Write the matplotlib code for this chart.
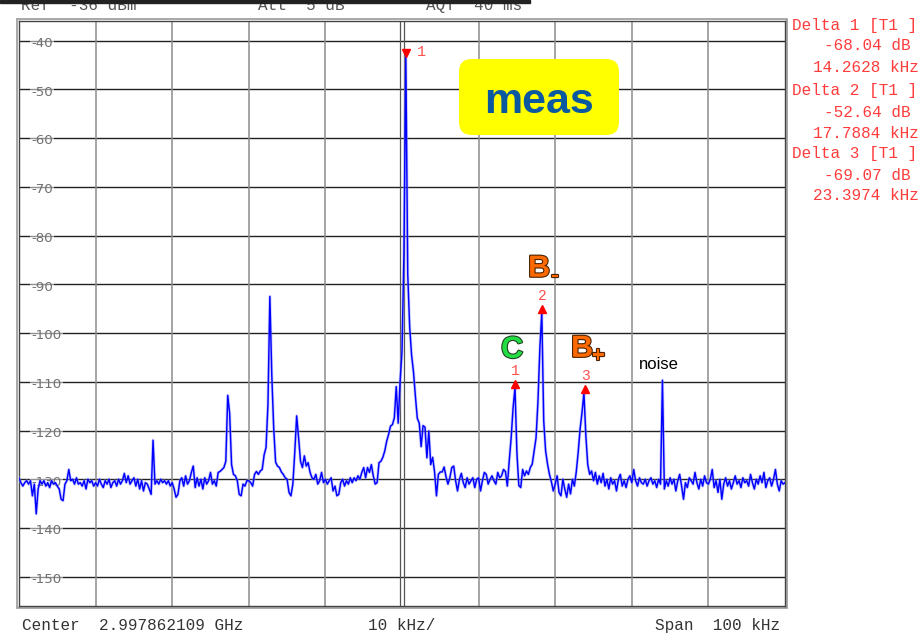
import numpy as np
import matplotlib
matplotlib.use('Agg')
import matplotlib.pyplot as plt
import matplotlib.patheffects as pe
from matplotlib.patches import FancyBboxPatch, Rectangle
from matplotlib.transforms import offset_copy

# sweep: 401 points, offset from center frequency in kHz
freq = np.linspace(-50, 50, 401)

# trace level in dBm, 20 sweep points (5 kHz) per row
trace_rows = [
    [-129.8, -130.7, -131.4, -130.7, -130.3, -131.0, -130.3, -133.4, -131.0, -137.1, -132.0, -130.3, -131.0, -130.3, -131.4, -130.7, -131.7, -130.3, -131.0, -130.7],
    [-131.4, -132.0, -134.1, -134.4, -131.0, -130.3, -128.0, -130.3, -130.0, -131.0, -129.7, -131.0, -130.7, -131.4, -130.3, -132.0, -130.0, -130.7, -130.3, -131.4],
    [-130.7, -131.4, -130.0, -131.0, -131.7, -130.3, -131.0, -130.0, -131.7, -130.7, -130.3, -131.4, -130.0, -131.0, -130.3, -128.8, -130.7, -129.3, -131.0, -130.3],
    [-129.7, -131.4, -130.0, -132.0, -130.3, -132.4, -130.7, -131.0, -132.0, -133.1, -122.0, -131.0, -130.3, -131.0, -130.0, -130.7, -130.3, -131.0, -130.3, -131.4],
    [-130.7, -132.0, -133.7, -133.1, -130.3, -129.7, -131.4, -129.3, -131.0, -130.3, -128.6, -127.3, -131.7, -129.7, -131.4, -130.0, -132.0, -129.7, -131.0, -130.3],
    [-128.6, -131.0, -130.3, -131.4, -128.6, -128.4, -128.0, -127.6, -126.3, -112.8, -116.5, -127.0, -129.0, -129.3, -130.3, -133.1, -133.4, -131.0, -131.4, -130.3],
    [-130.3, -130.7, -131.4, -129.0, -128.4, -129.0, -128.3, -128.0, -125.0, -123.5, -114.7, -92.5, -108.6, -119.5, -126.5, -127.3, -127.6, -128.5, -129.0, -129.7],
    [-130.0, -132.7, -133.4, -131.0, -124.5, -117.0, -121.5, -126.3, -127.6, -125.2, -127.3, -126.6, -128.6, -129.7, -130.0, -129.0, -131.0, -130.3, -128.6, -130.7],
    [-130.0, -131.0, -130.3, -129.7, -132.4, -131.4, -133.4, -133.1, -130.7, -130.0, -131.4, -130.3, -131.0, -129.7, -130.7, -129.7, -130.3, -129.3, -130.0, -128.6],
    [-127.6, -129.7, -127.6, -128.6, -127.0, -129.3, -131.0, -130.7, -126.6, -126.3, -125.5, -124.2, -122.2, -120.8, -119.1, -118.8, -117.4, -111.0, -118.5, -110.0],
    [-103.8, -84.0, -43.2, -88.0, -98.7, -104.5, -108.0, -113.0, -117.5, -118.5, -123.3, -119.0, -119.3, -125.6, -120.1, -127.0, -125.5, -128.5, -133.4, -129.0],
    [-128.5, -128.5, -127.5, -129.5, -131.0, -129.7, -127.6, -127.3, -130.3, -132.4, -130.0, -128.8, -130.7, -131.7, -129.7, -131.0, -130.3, -129.7, -131.7, -130.0],
    [-129.7, -132.4, -130.3, -128.6, -129.0, -131.0, -130.0, -129.3, -130.3, -131.0, -128.6, -129.7, -129.3, -128.0, -128.4, -131.4, -126.2, -121.5, -115.4, -111.2],
    [-124.5, -131.3, -131.7, -128.0, -129.3, -128.3, -129.0, -127.6, -126.9, -124.2, -121.5, -114.0, -103.0, -95.8, -118.0, -124.2, -126.9, -129.0, -130.5, -132.4],
    [-131.0, -129.3, -132.7, -133.4, -130.0, -132.0, -133.7, -131.0, -133.0, -130.0, -131.4, -128.5, -124.5, -119.7, -116.3, -112.3, -121.0, -127.0, -129.0, -128.3],
    [-130.3, -128.6, -131.0, -129.3, -130.7, -128.8, -131.4, -130.0, -132.0, -129.7, -131.0, -130.3, -132.4, -130.0, -129.0, -131.4, -130.3, -131.7, -130.0, -129.3],
    [-130.7, -128.0, -130.3, -131.4, -129.7, -130.7, -131.0, -130.0, -131.4, -130.3, -129.7, -131.0, -130.3, -131.7, -130.0, -131.0, -109.7, -132.0, -130.3, -131.4],
    [-129.7, -131.0, -130.0, -132.4, -130.3, -129.0, -131.4, -134.1, -130.7, -131.7, -129.7, -130.3, -131.0, -128.6, -130.7, -132.0, -130.0, -131.4, -129.3, -130.7],
    [-131.0, -130.0, -128.0, -131.7, -130.3, -132.7, -130.0, -134.1, -131.0, -129.7, -131.4, -130.3, -132.0, -130.7, -129.3, -131.0, -130.3, -131.7, -129.7, -130.7],
    [-130.3, -131.4, -129.0, -130.7, -132.0, -130.0, -131.0, -129.3, -130.7, -128.6, -131.7, -130.3, -129.7, -131.4, -130.0, -128.0, -131.0, -132.4, -130.3, -131.0, -130.7],
]
level = np.concatenate([np.array(r) for r in trace_rows])

# delta markers relative to marker 1 (carrier)
delta_names = ['1', '2', '3']
delta_khz = [14.2628, 17.7884, 23.3974]
delta_db = [-68.04, -52.64, -69.07]
delta_tags = ['C', 'B', 'B']
delta_subs = ['', '-', '+']
noise_khz = 34.0

y_labels = list(range(-40, -151, -10))
header = [('Ref  -36 dBm', 21), ('Att  5 dB', 258), ('AQT  40 ms', 426)]
footer = [('Center  2.997862109 GHz', 22), ('10 kHz/', 368), ('Span  100 kHz', 655)]

W, H = 924, 638
fig = plt.figure(figsize=(W / 100, H / 100), dpi=100)
ax = fig.add_axes([19 / W, 1 - 606 / H, 766 / W, 585 / H])
ax.set_xlim(-50, 50)
ax.set_ylim(-156, -36)
ax.set_xticks([])
ax.set_yticks([])
for s in ax.spines.values():
    s.set_color('#444444')
    s.set_linewidth(1.0)
ax.add_patch(Rectangle((-0.003, -0.004), 1.006, 1.008, transform=ax.transAxes, fill=False,
                       ec='#999999', lw=1.2, clip_on=False))

# graticule
for v in range(-150, -39, 10):
    ax.axhline(v, color='#222222', lw=1.0, zorder=1)
for f in range(-40, 50, 10):
    if f != 0:
        ax.axvline(f, color='#8c8c8c', lw=1.1, zorder=1)
ax.axvline(-0.2, color='#555555', lw=0.9, zorder=1)
ax.axvline(0.2, color='#555555', lw=0.9, zorder=1)

for v in y_labels:
    ax.text(0.016, v - 0.6, str(v), transform=ax.get_yaxis_transform(), ha='left', va='center',
            fontsize=9.6, color='#707070', family='DejaVu Sans', zorder=2,
            bbox=dict(facecolor='white', alpha=0.5, edgecolor='none', pad=1))

# trace
ax.plot(freq, level, color='#9999ff', lw=2.2, alpha=0.5, zorder=3)
ax.plot(freq, level, color='#0000ff', lw=1.05, zorder=4)

# markers
i0 = int(np.argmax(level))
f0, l0 = freq[i0], level[i0]
down = offset_copy(ax.transData, fig=fig, x=0, y=3.5, units='dots')
ax.plot([f0], [l0], marker='v', ms=5.5, color='#ff0000', transform=down, zorder=6, clip_on=False)
ax.annotate('1', (f0, l0), xytext=(16, 0), textcoords='offset pixels', ha='center', va='baseline',
            fontsize=11, color='#ff5050', family='Liberation Mono')

red_txt = '#ff3b3b'
stroke_c = [pe.withStroke(linewidth=1.6, foreground='#224422')]
stroke_b = [pe.withStroke(linewidth=1.6, foreground='#4a2200')]
tag_style = {'C': ('#22dd44', stroke_c), 'B': ('#ff6a00', stroke_b)}
for name, dk, dd, tag, sub in zip(delta_names, delta_khz, delta_db, delta_tags, delta_subs):
    fx, ly = f0 + dk, l0 + dd
    ax.plot([fx], [ly], marker='^', ms=5.5, color='#ff0000', transform=down, zorder=6)
    ax.annotate(name, (fx, ly), xytext=(0, 13), textcoords='offset pixels', ha='center', va='baseline',
                fontsize=10.5, color='#ff5050', family='Liberation Mono')
    col, eff = tag_style[tag]
    dy = 30 if tag == 'C' else 36
    ax.annotate(tag, (fx, ly), xytext=(-3, dy), textcoords='offset pixels', ha='center', va='baseline',
                fontsize=22, weight='bold', color=col, family='Liberation Sans', path_effects=eff)
    if sub:
        ax.annotate(sub, (fx, ly), xytext=(13, dy - 5), textcoords='offset pixels', ha='center', va='baseline',
                    fontsize=16, weight='bold', color=col, family='Liberation Sans', path_effects=eff)

i_n = int(np.argmin(np.abs(freq - noise_khz)))
ax.annotate('noise', (freq[i_n], level[i_n]), xytext=(-4, 11), textcoords='offset pixels', ha='center',
            va='baseline', fontsize=12, color='black', family='Liberation Sans')

# "meas" badge
fig.add_artist(FancyBboxPatch((4.59, (H - 135) / 100), 1.60, 0.76, boxstyle='round,pad=0,rounding_size=0.13',
                              transform=fig.dpi_scale_trans, fc='#ffff00', ec='none', zorder=5))
fig.text(539 / W, 1 - 113 / H, 'meas', ha='center', va='baseline', fontsize=31, weight='bold',
         color='#0a58a0', family='Liberation Sans', zorder=6)

# delta readout on the right
rows = []
for name, dk, dd in zip(delta_names, delta_khz, delta_db):
    rows += [('Delta %s [T1 ]' % name, 792), ('%.2f dB' % dd, 824), ('%.4f kHz' % dk, 813)]
baselines = [30, 50, 72, 95, 117, 138, 158, 180, 200]
for (txt, x), yb in zip(rows, baselines):
    fig.text(x / W, 1 - yb / H, txt, ha='left', va='baseline', fontsize=11.5, color=red_txt,
             family='Liberation Mono')

# header (cut off at the top, as on the screen shot) and footer
fig.add_artist(Rectangle((0, 1 - 3 / H), 530 / W, 3 / H, transform=fig.transFigure, color='#222222', zorder=10))
for txt, x in header:
    fig.text(x / W, 1 - 10 / H, txt, ha='left', va='baseline', fontsize=11.5, color='#555555',
             family='Liberation Mono')
for txt, x in footer:
    fig.text(x / W, 1 - 630 / H, txt, ha='left', va='baseline', fontsize=11.5, color='#333333',
             family='Liberation Mono')

fig.savefig('out.png', dpi=100)
